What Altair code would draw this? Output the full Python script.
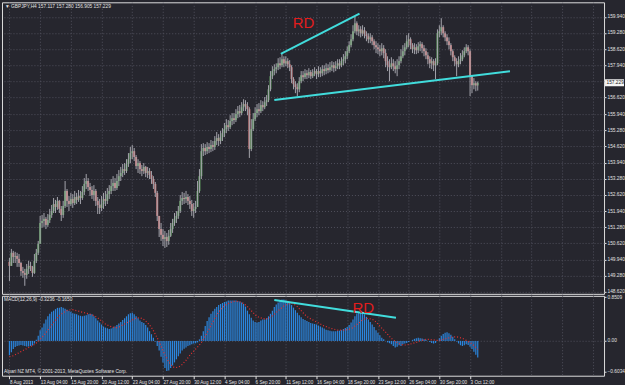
import json
import altair as alt
import pandas as pd

# ---------------- data ----------------
first_open = 149.85
bar_close = [
    149.68, 150.22, 150.05, 150.09, 149.97, 149.80, 149.47, 149.39, 149.31, 149.56, 149.68, 149.64, 149.39, 149.89, 150.22, 150.59,
    151.45, 151.53, 151.62, 151.37, 151.57, 151.78, 151.94, 152.23, 152.11, 152.36, 152.03, 151.78, 152.15, 152.77, 152.36, 152.23,
    152.44, 152.27, 152.52, 152.40, 152.56, 152.48, 152.73, 153.06, 153.18, 152.93, 152.81, 152.60, 152.77, 152.36, 152.19, 152.07,
    152.23, 152.44, 152.36, 152.64, 152.77, 152.97, 153.10, 152.89, 153.18, 153.38, 153.51, 153.67, 153.59, 153.88, 154.08, 154.33,
    154.41, 154.17, 153.80, 153.92, 153.67, 153.59, 153.76, 153.51, 153.59, 153.43, 153.26, 153.06, 152.69, 151.74, 151.20, 150.96,
    150.79, 150.87, 150.71, 150.92, 151.20, 151.45, 151.62, 151.74, 151.94, 152.36, 152.48, 152.44, 152.52, 152.36, 152.23, 151.94,
    152.03, 152.11, 152.77, 153.38, 154.41, 154.54, 154.41, 154.58, 154.50, 154.66, 154.58, 154.83, 154.95, 154.83, 154.99, 155.15,
    155.32, 155.48, 155.40, 155.65, 155.77, 155.69, 155.94, 156.06, 155.98, 156.22, 156.35, 156.27, 156.14, 154.50, 155.32, 155.73,
    155.98, 156.14, 156.06, 156.31, 156.22, 156.43, 156.51, 156.96, 157.50, 157.71, 157.79, 157.87, 158.03, 157.95, 158.20, 158.03,
    158.12, 157.99, 157.87, 157.38, 157.17, 157.05, 156.96, 157.29, 157.54, 157.46, 157.62, 157.54, 157.67, 157.50, 157.62, 157.71,
    157.58, 157.71, 157.62, 157.79, 157.71, 157.83, 157.75, 157.87, 157.95, 157.83, 157.91, 158.03, 157.95, 158.12, 158.20, 158.32,
    158.53, 158.78, 159.02, 159.35, 159.68, 159.35, 159.43, 159.27, 159.39, 159.23, 159.15, 159.02, 159.10, 158.94, 158.78, 158.69,
    158.61, 158.53, 158.65, 158.45, 158.12, 157.95, 157.87, 158.03, 157.91, 157.79, 157.95, 158.12, 158.32, 158.53, 158.69, 158.94,
    159.02, 158.78, 158.61, 158.69, 158.57, 158.73, 158.82, 158.65, 158.53, 158.36, 158.20, 158.03, 158.12, 157.95, 158.03, 159.27,
    159.35, 159.52, 159.27, 159.10, 158.94, 158.78, 158.53, 158.28, 158.12, 157.99, 158.12, 158.20, 158.36, 158.53, 158.69, 158.53,
    157.50, 157.13, 157.21, 157.117, 157.229,
]
bar_high = [
    150.01, 150.38, 150.30, 150.26, 150.22, 150.17, 149.85, 149.64, 149.56, 149.76, 149.89, 149.85, 149.68, 150.17, 150.38, 150.71,
    151.74, 151.78, 151.86, 151.70, 151.82, 152.03, 152.19, 152.48, 152.40, 152.52, 152.40, 152.15, 152.36, 153.18, 152.85, 152.56,
    152.69, 152.64, 152.77, 152.69, 152.81, 152.77, 152.97, 153.30, 153.47, 153.30, 153.10, 152.97, 153.01, 152.85, 152.52, 152.44,
    152.56, 152.69, 152.77, 152.89, 153.01, 153.26, 153.38, 153.30, 153.47, 153.63, 153.76, 153.88, 153.92, 154.08, 154.33, 154.58,
    154.66, 154.54, 154.25, 154.08, 154.00, 153.84, 153.92, 153.80, 153.76, 153.71, 153.59, 153.38, 153.14, 152.77, 151.74, 151.45,
    151.20, 151.12, 151.04, 151.16, 151.45, 151.62, 151.86, 151.94, 152.15, 152.60, 152.73, 152.69, 152.77, 152.64, 152.56, 152.40,
    152.27, 152.36, 153.18, 153.67, 154.70, 154.74, 154.70, 154.78, 154.74, 154.87, 154.83, 155.03, 155.20, 155.11, 155.24, 155.36,
    155.57, 155.73, 155.69, 155.89, 155.98, 155.98, 156.14, 156.27, 156.31, 156.43, 156.55, 156.51, 156.43, 156.22, 155.73, 155.98,
    156.22, 156.35, 156.39, 156.51, 156.47, 156.64, 156.72, 157.13, 157.71, 157.91, 157.99, 158.03, 158.24, 158.28, 158.41, 158.32,
    158.32, 158.24, 158.16, 157.95, 157.46, 157.29, 157.21, 157.46, 157.71, 157.71, 157.79, 157.75, 157.83, 157.75, 157.79, 157.87,
    157.79, 157.91, 157.87, 157.95, 157.95, 158.03, 157.99, 158.08, 158.12, 158.08, 158.12, 158.20, 158.20, 158.28, 158.41, 158.53,
    158.73, 158.94, 159.23, 159.60, 159.97, 159.76, 159.60, 159.56, 159.60, 159.52, 159.35, 159.27, 159.27, 159.19, 159.02, 158.94,
    158.86, 158.78, 158.86, 158.78, 158.61, 158.32, 158.20, 158.28, 158.20, 158.12, 158.20, 158.32, 158.61, 158.78, 158.86, 159.19,
    159.27, 159.10, 158.86, 158.86, 158.82, 158.90, 158.94, 158.90, 158.78, 158.65, 158.49, 158.32, 158.28, 158.20, 158.24, 159.43,
    159.60, 159.89, 159.60, 159.35, 159.23, 159.10, 158.86, 158.61, 158.36, 158.24, 158.32, 158.45, 158.57, 158.69, 158.82, 158.78,
    158.61, 157.46, 157.42, 157.29, 157.280,
]
bar_low = [
    149.06, 149.72, 149.80, 149.80, 149.64, 149.64, 149.27, 149.19, 148.86, 149.15, 149.35, 149.47, 149.23, 149.35, 149.80, 150.13,
    150.79, 151.25, 151.29, 151.20, 151.29, 151.45, 151.66, 151.86, 151.86, 151.99, 151.86, 151.53, 151.66, 152.07, 152.11, 151.94,
    152.15, 152.07, 152.19, 152.23, 152.32, 152.23, 152.40, 152.60, 152.85, 152.77, 152.56, 152.44, 152.36, 152.15, 151.82, 151.82,
    151.94, 152.03, 152.15, 152.23, 152.44, 152.64, 152.77, 152.77, 152.81, 152.97, 153.18, 153.34, 153.43, 153.51, 153.76, 153.92,
    154.08, 154.00, 153.67, 153.51, 153.47, 153.38, 153.47, 153.34, 153.30, 153.26, 153.06, 152.85, 152.52, 151.53, 150.87, 150.71,
    150.50, 150.42, 150.46, 150.55, 150.87, 151.04, 151.33, 151.45, 151.62, 151.86, 152.19, 152.23, 152.27, 152.19, 152.03, 151.74,
    151.66, 151.86, 152.15, 152.69, 153.26, 154.21, 154.25, 154.29, 154.33, 154.37, 154.41, 154.46, 154.66, 154.62, 154.70, 154.83,
    154.99, 155.15, 155.24, 155.32, 155.48, 155.53, 155.61, 155.77, 155.81, 155.89, 156.06, 156.06, 155.89, 154.13, 154.41, 155.24,
    155.65, 155.81, 155.89, 155.98, 156.06, 156.14, 156.27, 156.43, 156.88, 157.38, 157.54, 157.62, 157.75, 157.79, 157.87, 157.87,
    157.91, 157.83, 157.71, 157.21, 156.96, 156.80, 156.68, 156.84, 157.21, 157.29, 157.38, 157.38, 157.42, 157.38, 157.42, 157.50,
    157.38, 157.46, 157.46, 157.50, 157.54, 157.58, 157.62, 157.66, 157.71, 157.66, 157.71, 157.79, 157.79, 157.87, 157.95, 158.03,
    158.20, 158.45, 158.69, 158.94, 159.27, 159.19, 159.15, 159.10, 159.15, 159.06, 158.94, 158.86, 158.86, 158.78, 158.61, 158.45,
    158.41, 158.32, 158.36, 158.24, 157.87, 157.71, 157.29, 157.79, 157.71, 157.62, 157.50, 157.79, 158.03, 158.24, 158.36, 158.61,
    158.69, 158.61, 158.45, 158.41, 158.41, 158.45, 158.53, 158.45, 158.32, 158.20, 157.99, 157.83, 157.79, 157.71, 157.38, 157.95,
    159.10, 159.19, 159.10, 158.94, 158.78, 158.61, 158.36, 158.12, 157.91, 157.50, 157.87, 157.99, 158.12, 158.28, 158.45, 158.36,
    156.68, 156.80, 156.96, 156.88, 156.905,
]
macd_hist = [
    -0.28, -0.22, -0.16, -0.12, -0.10, -0.09, -0.08, -0.09, -0.10, -0.11, -0.11, -0.10, -0.09, -0.05, 0.02, 0.10,
    0.21, 0.26, 0.34, 0.42, 0.48, 0.53, 0.57, 0.59, 0.62, 0.645, 0.645, 0.66, 0.645, 0.63, 0.61, 0.59,
    0.57, 0.54, 0.53, 0.52, 0.50, 0.49, 0.48, 0.49, 0.50, 0.52, 0.53, 0.52, 0.48, 0.44, 0.40, 0.36,
    0.32, 0.28, 0.26, 0.245, 0.23, 0.24, 0.26, 0.28, 0.31, 0.34, 0.37, 0.41, 0.44, 0.48, 0.52, 0.54,
    0.55, 0.52, 0.48, 0.44, 0.40, 0.37, 0.35, 0.31, 0.26, 0.19, 0.13, 0.06, -0.01, -0.10, -0.19, -0.31,
    -0.42, -0.53, -0.59, -0.58, -0.53, -0.48, -0.42, -0.36, -0.30, -0.245, -0.19, -0.155, -0.13, -0.10, -0.085, -0.065,
    -0.05, -0.045, -0.03, 0.03, 0.10, 0.19, 0.29, 0.39, 0.46, 0.53, 0.58, 0.63, 0.66, 0.70, 0.72, 0.74,
    0.76, 0.77, 0.79, 0.79, 0.79, 0.79, 0.79, 0.78, 0.77, 0.75, 0.72, 0.67, 0.59, 0.52, 0.45, 0.40,
    0.37, 0.36, 0.37, 0.40, 0.42, 0.42, 0.44, 0.48, 0.53, 0.59, 0.66, 0.71, 0.75, 0.79, 0.81, 0.81,
    0.79, 0.77, 0.74, 0.70, 0.65, 0.60, 0.55, 0.50, 0.46, 0.43, 0.41, 0.39, 0.37, 0.35, 0.34, 0.33,
    0.32, 0.30, 0.28, 0.26, 0.24, 0.22, 0.21, 0.20, 0.19, 0.19, 0.19, 0.20, 0.20, 0.21, 0.23, 0.25,
    0.27, 0.31, 0.36, 0.42, 0.48, 0.535, 0.56, 0.57, 0.55, 0.52, 0.47, 0.42, 0.37, 0.32, 0.27, 0.21,
    0.16, 0.11, 0.06, 0.03, 0.0, -0.03, -0.045, -0.065, -0.10, -0.13, -0.115, -0.085, -0.10, -0.065, -0.05, -0.04,
    -0.02, 0.0, 0.02, 0.04, 0.05, 0.06, 0.05, 0.045, 0.03, 0.02, 0.0, -0.02, -0.04, -0.05, -0.04, 0.0,
    0.05, 0.10, 0.135, 0.16, 0.17, 0.15, 0.12, 0.08, 0.03, -0.01, -0.05, -0.085, -0.10, -0.085, -0.065, -0.08,
    -0.115, -0.16, -0.21, -0.27, -0.3236,
]
macd_signal = [
    -0.31, -0.30, -0.29, -0.27, -0.25, -0.23, -0.21, -0.19, -0.17, -0.15, -0.13, -0.11, -0.09, -0.07, -0.04, -0.01,
    0.03, 0.07, 0.11, 0.16, 0.21, 0.26, 0.31, 0.36, 0.40, 0.45, 0.49, 0.52, 0.55, 0.57, 0.59, 0.60,
    0.61, 0.61, 0.60, 0.59, 0.58, 0.57, 0.56, 0.55, 0.54, 0.53, 0.52, 0.51, 0.49, 0.47, 0.45, 0.42,
    0.39, 0.36, 0.33, 0.31, 0.29, 0.28, 0.27, 0.26, 0.26, 0.27, 0.29, 0.31, 0.33, 0.35, 0.37, 0.39,
    0.41, 0.43, 0.44, 0.45, 0.45, 0.44, 0.42, 0.39, 0.35, 0.31, 0.26, 0.20, 0.13, 0.06, -0.02, -0.10,
    -0.19, -0.27, -0.34, -0.41, -0.46, -0.50, -0.52, -0.52, -0.51, -0.49, -0.46, -0.42, -0.38, -0.33, -0.28, -0.24,
    -0.20, -0.16, -0.12, -0.08, -0.03, 0.03, 0.09, 0.16, 0.23, 0.30, 0.37, 0.44, 0.50, 0.56, 0.61, 0.65,
    0.68, 0.71, 0.73, 0.75, 0.76, 0.77, 0.77, 0.77, 0.76, 0.75, 0.73, 0.70, 0.67, 0.63, 0.59, 0.55,
    0.51, 0.48, 0.46, 0.45, 0.44, 0.43, 0.43, 0.44, 0.46, 0.49, 0.52, 0.55, 0.59, 0.62, 0.65, 0.68,
    0.70, 0.72, 0.73, 0.73, 0.72, 0.70, 0.67, 0.63, 0.59, 0.55, 0.51, 0.48, 0.45, 0.43, 0.41, 0.39,
    0.37, 0.35, 0.33, 0.31, 0.29, 0.28, 0.26, 0.25, 0.24, 0.23, 0.22, 0.21, 0.21, 0.21, 0.21, 0.21,
    0.22, 0.23, 0.24, 0.26, 0.29, 0.32, 0.35, 0.38, 0.41, 0.43, 0.44, 0.44, 0.43, 0.42, 0.40, 0.37,
    0.33, 0.29, 0.25, 0.21, 0.17, 0.13, 0.09, 0.05, 0.02, -0.01, -0.03, -0.05, -0.07, -0.08, -0.08, -0.08,
    -0.07, -0.06, -0.05, -0.04, -0.03, -0.01, 0.00, 0.01, 0.02, 0.03, 0.03, 0.03, 0.02, 0.02, 0.01, 0.01,
    0.01, 0.02, 0.03, 0.04, 0.05, 0.06, 0.07, 0.08, 0.08, 0.08, 0.07, 0.06, 0.05, 0.03, 0.01, -0.01,
    -0.03, -0.06, -0.09, -0.13, -0.165,
]
date_labels = ["8 Aug 2013", "13 Aug 04:00", "15 Aug 20:00", "20 Aug 12:00", "23 Aug 04:00",
               "27 Aug 20:00", "30 Aug 12:00", "4 Sep 04:00", "6 Sep 20:00", "11 Sep 12:00",
               "16 Sep 04:00", "18 Sep 20:00", "23 Sep 12:00", "26 Sep 04:00", "30 Sep 20:00",
               "3 Oct 12:00"]
price_ticks = [159.94, 159.28, 158.62, 157.94, 157.28, 156.62, 155.94, 155.28, 154.62,
               153.94, 153.28, 152.62, 151.94, 151.28, 150.62, 149.94, 149.28, 148.62]
macd_ticks = [0.8509, 0.0, -0.6034]
# trend lines (bar index, value)
trend_line = ["upper", "upper", "lower", "lower"]
trend_i = [141.4, 182.4, 138.0, 260.8]
trend_p = [158.42, 160.08, 156.52, 157.70]
macd_trend_i = [138.0, 201.4]
macd_trend_v = [0.80, 0.454]
rd_main = (153.2, 159.68)
rd_macd = (184.4, 0.643)

# ---------------- tables ----------------
n = len(bar_close)
opens = [first_open] + bar_close[:-1]
rows = []
for k in range(n):
    o, h, l, c = opens[k], bar_high[k], bar_low[k], bar_close[k]
    rows.append({"i": k, "open": o, "close": c, "high": max(h, o, c), "low": min(l, o, c),
                 "dir": "up" if c >= o else "down"})
df = pd.DataFrame(rows)
mdf = pd.DataFrame({"i": list(range(n)), "hist": macd_hist, "signal": macd_signal})
tl = pd.DataFrame({"line": trend_line, "i": trend_i, "p": trend_p})
mtl = pd.DataFrame({"i": macd_trend_i, "v": macd_trend_v})

BG = "#26262e"
GRID = "#50505c"
TXT = "#e2e2e2"
FONT = "Liberation Sans"
X_DOMAIN = [-1.28, 307.2]
grid_idx = list(range(0, 305, 16))

xs = alt.Scale(domain=X_DOMAIN, nice=False, zero=False)
ys = alt.Scale(domain=[148.529, 160.545], nice=False, zero=False)
ms = alt.Scale(domain=[-0.68, 0.88], nice=False, zero=False)

# ---------------- axes (identical object in every layer) ----------------
x_main_axis = alt.Axis(values=grid_idx, grid=True, gridColor=GRID, gridDash=[1, 2],
                       labels=False, ticks=False, domain=False, title=None, labelOverlap=False)
y_main_axis = alt.Axis(orient="right", values=price_ticks, grid=True, gridColor=GRID, gridDash=[1, 2],
                       labelExpr="abs(datum.value - 157.28) < 0.001 ? '' : format(datum.value, '.3f')",
                       labelFontSize=4.8, labelColor=TXT, labelFont=FONT, tickSize=2, tickColor=TXT,
                       labelPadding=1, domain=False, title=None, labelOverlap=False)
lbl_arr = json.dumps(date_labels)
x_macd_axis = alt.Axis(
    values=grid_idx, grid=True, gridColor=GRID, gridDash=[1, 2], domain=False, title=None,
    labelExpr=f"datum.value <= 240 ? {lbl_arr}[round(datum.value / 16)] : ''",
    labelAlign="left", labelFontSize=4.6, labelColor=TXT, labelFont=FONT, labelPadding=1,
    labelOverlap=False, labelFlush=False, tickSize=3, tickColor=TXT,
    tickOpacity={"condition": {"test": "datum.value > 240", "value": 0}, "value": 1})
y_macd_axis = alt.Axis(orient="right", values=macd_ticks, grid=True, gridColor=GRID, gridDash=[1, 2],
                       gridOpacity={"condition": {"test": "datum.value == 0", "value": 1}, "value": 0},
                       labelExpr="datum.value == 0 ? '0.00' : format(datum.value, '.4f')",
                       labelFontSize=4.8, labelColor=TXT, labelFont=FONT, tickSize=2, tickColor=TXT,
                       labelPadding=1, domain=False, title=None, labelOverlap=False)


def xm(f):
    return alt.X(f, scale=xs, axis=x_main_axis)


def ym(f):
    return alt.Y(f, scale=ys, axis=y_main_axis)


def xk(f):
    return alt.X(f, scale=xs, axis=x_macd_axis)


def yk(f):
    return alt.Y(f, scale=ms, axis=y_macd_axis)


# ---------------- main price panel ----------------
bodies = alt.Chart(df).mark_bar(size=2).encode(
    x=xm("i:Q"), y=ym("open:Q"), y2="close:Q",
    color=alt.Color("dir:N", scale=alt.Scale(domain=["up", "down"], range=["#5c9a5c", "#d07878"]), legend=None))
wicks = alt.Chart(df).mark_rule(color="#a4a4ac", strokeWidth=1).encode(
    x=xm("i:Q"), y=ym("low:Q"), y2="high:Q")
lines = alt.Chart(tl).mark_line(color="#41dcdc", strokeWidth=2).encode(
    x=xm("i:Q"), y=ym("p:Q"), detail="line:N")
rd1 = alt.Chart(pd.DataFrame({"i": [rd_main[0]], "p": [rd_main[1]]})).mark_text(
    text="RD", color="#e21d1d", fontSize=15, font=FONT).encode(x=xm("i:Q"), y=ym("p:Q"))
cur = pd.DataFrame({"p": [bar_close[-1]], "t": [f"{bar_close[-1]:.3f}"]})
tag = alt.Chart(cur).mark_tick(orient="horizontal", color="#f4f4f4", size=19, thickness=7, opacity=1).encode(
    x=alt.value(613.5), y=ym("p:Q"))
tag_txt = alt.Chart(cur).mark_text(align="left", baseline="middle", fontSize=4.8, color="#1a1a1a", font=FONT).encode(
    x=alt.value(605.5), y=ym("p:Q"), text="t:N")
head = f"\u25bc GBPJPY,H4  {opens[-1]:.3f} {bar_high[-1]:.3f} {bar_low[-1]:.3f} {bar_close[-1]:.3f}"
head_txt = alt.Chart(pd.DataFrame({"t": [head]})).mark_text(
    align="left", baseline="middle", fontSize=4.8, color=TXT, font=FONT).encode(
    x=alt.value(3), y=alt.value(4.5), text="t:N")

main = alt.layer(bodies, wicks, lines, rd1, tag, tag_txt, head_txt).properties(width=603, height=292)

# ---------------- MACD panel ----------------
hist = alt.Chart(mdf).mark_bar(size=1.2, color="#2b86de").encode(
    x=xk("i:Q"), y=yk("hist:Q"), y2=alt.datum(0))
sig = alt.Chart(mdf).mark_line(color="#e43030", strokeDash=[1, 2], strokeWidth=1.2).encode(
    x=xk("i:Q"), y=yk("signal:Q"))
mline = alt.Chart(mtl).mark_line(color="#41dcdc", strokeWidth=2).encode(
    x=xk("i:Q"), y=yk("v:Q"))
rd2 = alt.Chart(pd.DataFrame({"i": [rd_macd[0]], "v": [rd_macd[1]]})).mark_text(
    text="RD", color="#e21d1d", fontSize=15, font=FONT).encode(x=xk("i:Q"), y=yk("v:Q"))
mhead = f"MACD(12,26,9) {macd_hist[-1]:.4f} {macd_signal[-1]:.4f}"
mhead_txt = alt.Chart(pd.DataFrame({"t": [mhead]})).mark_text(
    align="left", baseline="middle", fontSize=4.8, color=TXT, font=FONT).encode(
    x=alt.value(2), y=alt.value(4), text="t:N")
credit_txt = alt.Chart(pd.DataFrame({"t": ["Alpari NZ MT4, \u00a9 2001-2013, MetaQuotes Software Corp."]})).mark_text(
    align="left", baseline="middle", fontSize=4.8, color=TXT, font=FONT).encode(
    x=alt.value(2), y=alt.value(76), text="t:N")

macd = alt.layer(hist, sig, mline, rd2, mhead_txt, credit_txt).properties(width=603, height=80)

chart = alt.vconcat(main, macd, spacing=2, bounds="flush").properties(
    padding={"left": 1, "top": 1, "right": 0, "bottom": 0}, background=BG
).resolve_scale(color="independent").configure_view(
    stroke="#c8c8c8", strokeWidth=1, fill=BG
).configure_axis(labelOverlap=False).configure(font=FONT)

chart.save("out.html", embed_options={"renderer": "svg", "actions": False})
